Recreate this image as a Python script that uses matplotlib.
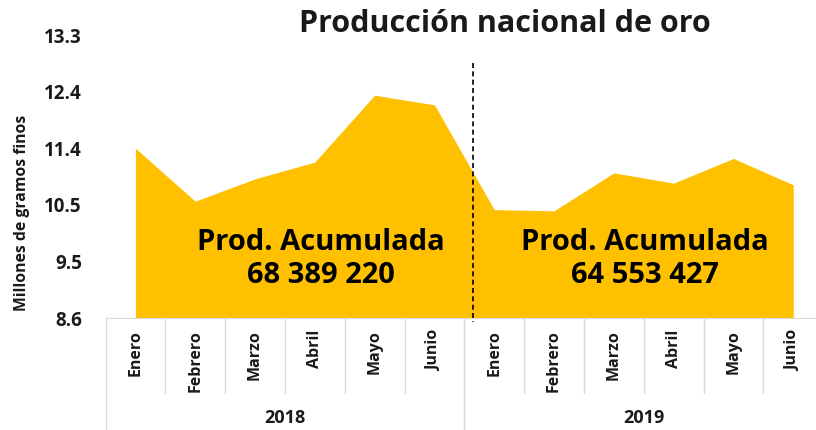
import numpy as np
import matplotlib
matplotlib.use("Agg")
import matplotlib.pyplot as plt
import matplotlib.transforms as mtransforms

# ===== DATOS =====
meses = ["Enero", "Febrero", "Marzo", "Abril", "Mayo", "Junio"]
anios = ["2018", "2019"]
prod_2018 = [11.42, 10.54, 10.91, 11.19, 12.30, 12.14]
prod_2019 = [10.40, 10.38, 11.01, 10.84, 11.25, 10.81]
acumulado = ["68 389 220", "64 553 427"]
y_ticks = [8.6, 9.54, 10.48, 11.42, 12.36, 13.3]

valores = prod_2018 + prod_2019
etiquetas = meses + meses
x = np.arange(len(valores))

plt.rcParams["font.family"] = ["Open Sans", "DejaVu Sans"]
plt.rcParams["font.weight"] = "bold"

# ===== GRÁFICO =====
fig = plt.figure(figsize=(8.16, 4.30), dpi=100)
left = 105.5 / 816
ax = fig.add_axes([left, (430 - 318) / 430, 1 - left, (318 - 35) / 430])

ax.fill_between(x, valores, 8.6, color="#FFC000", linewidth=0, zorder=2)

ax.set_ylim(8.6, 13.3)
ax.set_xlim(-0.5, 11.38)
ax.set_yticks(y_ticks)
ax.set_yticklabels([f"{v:.1f}" for v in y_ticks], fontsize=13.5, fontweight="bold", color="#1a1a1a")
ax.tick_params(axis="y", length=0, pad=17)
ax.set_xticks([])
for s in ["top", "right", "left"]:
    ax.spines[s].set_visible(False)
ax.spines["bottom"].set_color("#d9d9d9")

fig.text(22 / 816, (430 - 213) / 430, "Millones de gramos finos", rotation=90,
         ha="center", va="center", fontsize=11.3, fontweight="bold", color="#1a1a1a")

fig.suptitle("Producción nacional de oro", x=505 / 816, y=1 - 24 / 430, va="center",
             fontsize=22, fontweight="bold", color="#1a1a1a")

trans = mtransforms.blended_transform_factory(ax.transData, ax.transAxes)

# separación entre años
ax.plot([5.65, 5.65], [0.9, -0.015], transform=trans,
        color="black", linestyle=(0, (3, 2)), linewidth=1.2, clip_on=False, zorder=3)

# textos de producción acumulada
ax.text(3.1, 9.58, "Prod. Acumulada\n" + acumulado[0], ha="center", va="center",
        fontsize=21, fontweight="bold", color="black", linespacing=1.2, zorder=4)
ax.text(8.52, 9.58, "Prod. Acumulada\n" + acumulado[1], ha="center", va="center",
        fontsize=21, fontweight="bold", color="black", linespacing=1.2, zorder=4)

# tabla de categorías
h = (318 - 35)
y_mes = -(393 - 318) / h
y_fin = -(430 - 318) / h
for i, m in enumerate(etiquetas):
    ax.text(i, -(330 - 318) / h, m, rotation=90, ha="center", va="top", transform=trans,
            fontsize=11.5, fontweight="bold", color="#1a1a1a")
for b in np.arange(-0.5, 12, 1):
    largo = y_fin if b in (-0.5, 5.5) else y_mes
    ax.plot([b, b], [0, largo], transform=trans, color="#d9d9d9", linewidth=1, clip_on=False)
for j, a in enumerate(anios):
    ax.text(2.5 + 6 * j, -(418 - 318) / h, a, ha="center", va="center", transform=trans,
            fontsize=13, fontweight="bold", color="#1a1a1a")

plt.savefig("out.png", dpi=100)
